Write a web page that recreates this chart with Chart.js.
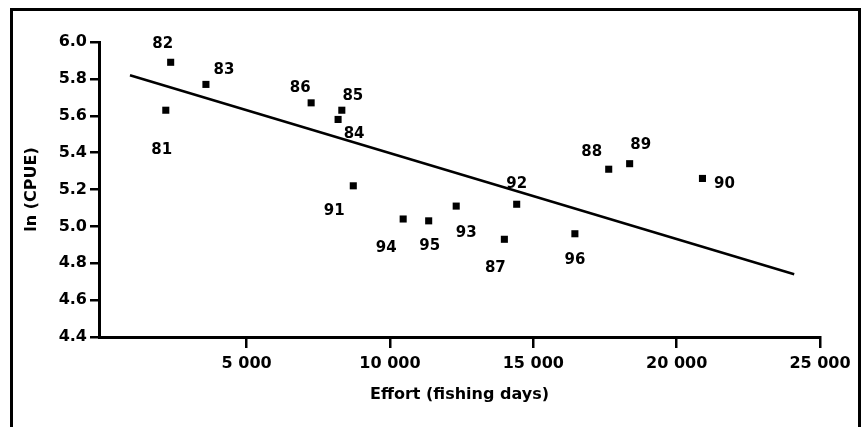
<!DOCTYPE html>
<html><head><meta charset="utf-8">
<script src="https://cdn.jsdelivr.net/npm/chart.js@4/dist/chart.umd.min.js"></script>
<style>
html,body{margin:0;padding:0;background:#fff;}
#wrap{position:relative;width:867px;height:427px;overflow:hidden;background:#fff;}
#frame{position:absolute;left:10px;top:8px;width:851px;height:440px;box-sizing:border-box;border:3px solid #000;border-bottom:none;}
canvas{position:absolute;left:0;top:0;}
</style></head><body>
<div id="wrap"><div id="frame"></div><canvas id="c" width="867" height="427"></canvas></div>
<script>
// Data
const years   = ['81','82','83','84','85','86','87','88','89','90','91','92','93','94','95','96'];
const effort  = [2180, 2350, 3580, 8190, 8320, 7250, 13990, 17630, 18360, 20900, 8720, 14420, 12310, 10460, 11350, 16450];
const lnCPUE  = [5.63, 5.89, 5.77, 5.58, 5.63, 5.67, 4.93, 5.31, 5.34, 5.26, 5.22, 5.12, 5.11, 5.04, 5.03, 4.96];
// Fitted regression line end points
const fitEffort = [930, 24100];
const fitLnCPUE = [5.82, 4.74];
// Tick labels
const xTickValues = [5000, 10000, 15000, 20000, 25000];
const xTickLabels = ['5 000', '10 000', '15 000', '20 000', '25 000'];
const yTickValues = [4.4, 4.6, 4.8, 5.0, 5.2, 5.4, 5.6, 5.8, 6.0];
const yTickLabels = ['4.4', '4.6', '4.8', '5.0', '5.2', '5.4', '5.6', '5.8', '6.0'];
// Year label placement (pixel offsets from each point)
const labelOffsets = [[-4,40],[-8,-18],[18,-14],[16,15],[11,-14],[-11,-15],[-9,29],[-17,-17],[11,-19],[22,6],[-19,25],[0,-20],[10,27],[-17,29],[1,25],[0,26]];

const FONT = "'DejaVu Sans', sans-serif";

const yearLabels = {
  id: 'yearLabels',
  afterDatasetsDraw(chart) {
    const ctx = chart.ctx;
    const meta = chart.getDatasetMeta(0);
    ctx.save();
    ctx.font = "bold 15px " + FONT;
    ctx.fillStyle = '#000';
    ctx.textAlign = 'center';
    ctx.textBaseline = 'middle';
    meta.data.forEach((pt, i) => {
      ctx.fillText(years[i], pt.x + labelOffsets[i][0], pt.y + labelOffsets[i][1]);
    });
    ctx.restore();
  }
};

new Chart(document.getElementById('c'), {
  type: 'scatter',
  data: {
    datasets: [
      {
        data: effort.map((x, i) => ({x: x, y: lnCPUE[i]})),
        pointStyle: 'rect',
        pointRadius: 5,
        backgroundColor: '#000',
        borderColor: '#000',
        borderWidth: 0
      },
      {
        type: 'line',
        data: fitEffort.map((x, i) => ({x: x, y: fitLnCPUE[i]})),
        borderColor: '#000',
        borderWidth: 2.5,
        pointRadius: 0,
        fill: false
      }
    ]
  },
  options: {
    responsive: false,
    devicePixelRatio: 1,
    animation: false,
    layout: {padding: {top: 42, right: 47, left: 0, bottom: 0}},
    plugins: {legend: {display: false}, tooltip: {enabled: false}},
    scales: {
      x: {
        type: 'linear',
        min: -150, max: 25000,
        afterFit: s => { s.height = 90; },
        afterBuildTicks: s => { s.ticks = xTickValues.map(v => ({value: v})); },
        ticks: {
          color: '#000',
          font: {family: FONT, size: 16, weight: 'bold'},
          padding: 6,
          maxRotation: 0,
          callback: (v) => { const i = xTickValues.indexOf(v); return i >= 0 ? xTickLabels[i] : ''; }
        },
        grid: {drawOnChartArea: false, drawTicks: true, tickLength: 11, color: '#000', lineWidth: 2.5},
        border: {display: true, color: '#000', width: 3},
        title: {display: true, text: 'Effort (fishing days)', color: '#000',
                font: {family: FONT, size: 16, weight: 'bold'}, padding: {top: 0, bottom: 23}}
      },
      y: {
        type: 'linear',
        min: 4.4, max: 6.0,
        afterFit: s => { s.width = 99; },
        afterBuildTicks: s => { s.ticks = yTickValues.map(v => ({value: v})); },
        ticks: {
          color: '#000',
          font: {family: FONT, size: 16, weight: 'bold'},
          padding: 3,
          callback: (v) => { const i = yTickValues.findIndex(t => Math.abs(t - v) < 1e-9); return i >= 0 ? yTickLabels[i] : ''; }
        },
        grid: {drawOnChartArea: false, drawTicks: true, tickLength: 9, color: '#000', lineWidth: 2.5},
        border: {display: true, color: '#000', width: 3},
        title: {display: true, text: 'ln (CPUE)', color: '#000',
                font: {family: FONT, size: 16, weight: 'bold'}, padding: {top: 22, bottom: 0}}
      }
    }
  },
  plugins: [yearLabels]
});
</script>
</body></html>
